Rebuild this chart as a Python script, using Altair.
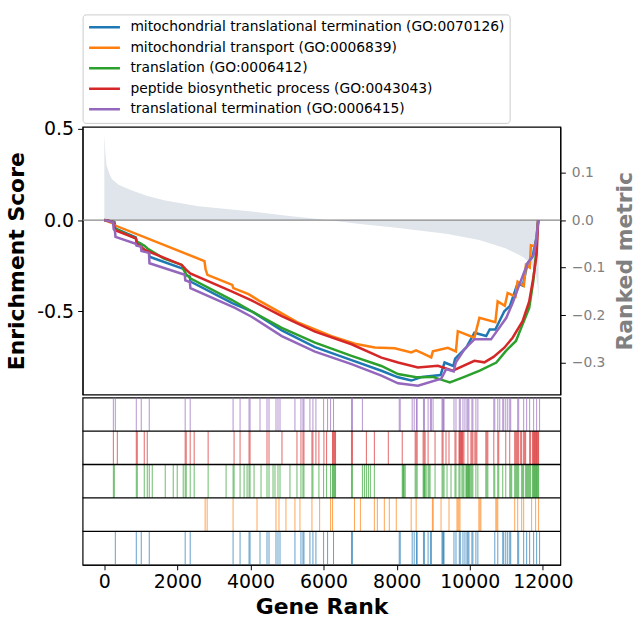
import altair as alt
import pandas as pd

names = [
    "mitochondrial translational termination (GO:0070126)",
    "mitochondrial transport (GO:0006839)",
    "translation (GO:0006412)",
    "peptide biosynthetic process (GO:0043043)",
    "translational termination (GO:0006415)",
]
colors = ["#1f77b4", "#ff7f0e", "#2ca02c", "#d62728", "#9467bd"]

# Enrichment-score curves (gene rank, ES)
es_x = [
    [0, 280, 310, 860, 880, 1000, 1020, 1220, 1235, 2200, 2215, 2340, 2355, 3500, 4028, 4855, 5765, 6764, 7582, 8037, 8400, 8700, 9200, 9310, 9550, 9600, 9900, 10127, 10450, 10546, 10700, 10946, 11100, 11310, 11450, 11582, 11720, 11830, 11873],
    [0, 250, 300, 2740, 2770, 2820, 3500, 3530, 3946, 4219, 4674, 5310, 6218, 6855, 7400, 7946, 8400, 8530, 8700, 8946, 8990, 9200, 9400, 9620, 9673, 10127, 10264, 10700, 10764, 10960, 11037, 11250, 11310, 11480, 11537, 11640, 11673, 11800, 11873],
    [0, 240, 280, 860, 900, 1090, 1180, 1619, 2119, 2160, 2250, 2350, 3483, 4028, 4855, 5765, 6764, 7582, 8037, 8537, 8990, 9300, 9455, 9818, 10273, 10727, 10991, 11264, 11446, 11627, 11737, 11809, 11873],
    [0, 240, 300, 860, 890, 1119, 2119, 2230, 2350, 3483, 4028, 4855, 5765, 6764, 7582, 8037, 8582, 9127, 9536, 10127, 10400, 10650, 10946, 11173, 11446, 11627, 11737, 11828, 11873],
    [0, 240, 255, 290, 305, 860, 880, 1000, 1015, 1220, 1235, 2200, 2215, 2340, 2355, 3574, 4028, 4855, 5765, 6764, 7582, 8037, 8582, 9218, 9355, 9560, 9620, 9855, 10127, 10582, 11000, 11173, 11355, 11582, 11750, 11830, 11873],
]
es_y = [
    [0, -0.012, -0.047, -0.095, -0.12, -0.13, -0.156, -0.175, -0.201, -0.27, -0.30, -0.31, -0.337, -0.455, -0.50, -0.605, -0.697, -0.768, -0.826, -0.862, -0.88, -0.86, -0.85, -0.781, -0.80, -0.76, -0.70, -0.618, -0.636, -0.60, -0.60, -0.50, -0.47, -0.346, -0.36, -0.237, -0.20, -0.09, 0],
    [0, -0.02, -0.03, -0.225, -0.27, -0.30, -0.355, -0.373, -0.406, -0.44, -0.491, -0.563, -0.636, -0.678, -0.699, -0.703, -0.726, -0.715, -0.73, -0.753, -0.72, -0.71, -0.70, -0.72, -0.609, -0.645, -0.536, -0.56, -0.446, -0.47, -0.40, -0.42, -0.337, -0.36, -0.246, -0.26, -0.138, -0.145, 0],
    [0, -0.01, -0.047, -0.10, -0.12, -0.14, -0.156, -0.21, -0.246, -0.27, -0.30, -0.319, -0.437, -0.50, -0.591, -0.672, -0.745, -0.80, -0.844, -0.862, -0.86, -0.88, -0.89, -0.862, -0.826, -0.781, -0.717, -0.663, -0.572, -0.482, -0.337, -0.192, 0],
    [0, -0.01, -0.056, -0.10, -0.129, -0.165, -0.246, -0.27, -0.292, -0.391, -0.44, -0.527, -0.612, -0.681, -0.754, -0.781, -0.808, -0.799, -0.826, -0.772, -0.78, -0.75, -0.70, -0.645, -0.554, -0.446, -0.319, -0.192, 0],
    [0, -0.012, -0.05, -0.06, -0.092, -0.13, -0.14, -0.145, -0.17, -0.18, -0.237, -0.30, -0.33, -0.34, -0.373, -0.482, -0.53, -0.636, -0.721, -0.79, -0.853, -0.895, -0.908, -0.87, -0.817, -0.83, -0.78, -0.708, -0.654, -0.654, -0.536, -0.455, -0.355, -0.237, -0.19, -0.10, 0],
]

# Ranked metric (gene rank, metric)
metric_x = [0, 30, 60, 150, 210, 400, 755, 1200, 1665, 2574, 4028, 5000, 6100, 7000, 8000, 8500, 9355, 10264, 10991, 11446, 11673, 11809, 11860, 11882]
metric_y = [0.18, 0.14, 0.115, 0.095, 0.086, 0.074, 0.062, 0.05, 0.041, 0.029, 0.018, 0.009, 0.0, -0.008, -0.016, -0.021, -0.029, -0.042, -0.06, -0.077, -0.091, -0.115, -0.14, -0.171]

# Hit positions of each gene set
hits = [
    [300, 874, 1010, 1229, 2212, 2349, 3523, 3714, 3960, 3987, 4260, 4451, 4506, 4697, 4752, 4807, 5216, 5380, 5435, 5462, 5626, 5708, 5790, 6000, 6109, 6272, 6763, 6790, 8070, 8097, 8424, 8479, 8542, 8560, 8733, 8760, 8860, 8924, 8951, 9240, 9260, 9280, 9296, 9568, 9623, 9714, 9741, 9814, 9868, 9923, 9950, 9977, 10059, 10086, 10168, 10222, 10685, 10767, 10903, 10930, 10985, 11039, 11094, 11121, 11312, 11339, 11475, 11557, 11639, 11748, 11830, 11911],
    [2758, 2813, 3523, 4178, 4697, 4779, 4970, 5216, 5353, 5681, 5891, 6191, 6245, 6845, 7008, 7389, 7471, 7662, 7798, 7989, 8397, 8533, 8978, 9000, 9214, 9432, 9650, 9677, 9705, 9732, 10249, 10277, 10304, 10713, 10740, 10767, 11230, 11312, 11421, 11475, 11693, 11802, 11884],
    [246, 273, 874, 901, 1092, 1174, 1229, 1311, 1666, 1885, 1994, 2158, 2212, 2240, 2349, 2458, 2840, 3332, 3523, 3550, 3714, 3824, 3906, 3960, 3987, 4097, 4288, 4451, 4506, 4616, 4670, 4752, 4807, 5080, 5271, 5380, 5435, 5462, 5681, 5708, 5872, 6000, 6082, 6191, 6245, 6265, 6286, 6306, 6327, 6763, 6790, 7062, 7117, 7171, 7226, 7280, 7389, 8152, 8170, 8188, 8206, 8234, 8506, 8533, 8560, 8724, 8742, 8760, 8778, 8806, 8860, 8887, 8914, 9050, 9242, 9269, 9296, 9378, 9487, 9596, 9623, 9705, 9732, 9786, 9814, 9841, 9895, 9914, 9932, 9950, 9968, 9986, 10004, 10032, 10059, 10086, 10168, 10222, 10440, 10467, 10495, 10658, 10685, 10767, 10794, 10903, 10985, 11094, 11121, 11148, 11230, 11258, 11285, 11312, 11339, 11421, 11448, 11475, 11530, 11557, 11584, 11611, 11639, 11666, 11720, 11738, 11756, 11775, 11793, 11811, 11829, 11847, 11866, 11884],
    [246, 355, 874, 901, 1092, 1174, 2212, 2240, 2349, 2458, 2840, 3550, 3714, 3960, 3987, 4451, 4506, 4861, 5271, 5380, 5435, 5462, 5681, 5708, 5790, 5872, 6009, 6082, 6245, 6265, 6286, 6306, 6327, 6763, 6790, 7171, 7389, 7771, 8152, 8506, 8533, 8560, 8724, 8751, 8778, 8860, 9050, 9242, 9269, 9350, 9432, 9596, 9623, 9705, 9723, 9741, 9760, 9778, 9796, 9814, 9841, 9950, 10032, 10059, 10086, 10140, 10168, 10195, 10440, 10467, 10495, 10658, 10767, 10794, 10985, 11094, 11230, 11258, 11285, 11312, 11339, 11394, 11421, 11475, 11503, 11530, 11639, 11666, 11720, 11738, 11756, 11775, 11793, 11811, 11829, 11847, 11866, 11884],
    [246, 300, 874, 1010, 1229, 2212, 2349, 3523, 3714, 3960, 3987, 4260, 4451, 4506, 4697, 4752, 4807, 5216, 5380, 5435, 5462, 5626, 5708, 5790, 6000, 6109, 6191, 6272, 6763, 6790, 7062, 8070, 8097, 8424, 8479, 8542, 8560, 8733, 8760, 8860, 8924, 8951, 8996, 9240, 9260, 9280, 9296, 9568, 9623, 9714, 9741, 9814, 9868, 9923, 9950, 9977, 10059, 10086, 10168, 10222, 10658, 10685, 10767, 10821, 10903, 10930, 10985, 11039, 11094, 11121, 11312, 11339, 11475, 11557, 11639, 11748, 11830, 11911],
]

FONT = "DejaVu Sans"

es_rows = []
for t, (xs, ys) in enumerate(zip(es_x, es_y)):
    for i, (a, b) in enumerate(zip(xs, ys)):
        es_rows.append({"term": names[t], "i": i, "rank": a, "es": b})
es_df = pd.DataFrame(es_rows)

metric_df = pd.DataFrame({"rank": metric_x, "metric": metric_y})

hit_rows = []
for t, hs in enumerate(hits):
    for h in hs:
        hit_rows.append({"term": names[t], "rank": h, "r0": t, "r1": t + 1})
hit_df = pd.DataFrame(hit_rows)

x_scale = alt.Scale(domain=[-595, 12480], nice=False, zero=False)
color_scale = alt.Scale(domain=names, range=colors)
es_scale = alt.Scale(domain=[-0.957, 0.511], nice=False, zero=False)

es_axis = alt.Axis(
    values=[0.5, 0.0, -0.5],
    labelExpr="replace(format(datum.value, '.1f'), '\u2212', '-')",
    title="Enrichment Score",
    titleFontSize=22, titleFontWeight="bold", titleColor="black",
    labelFontSize=19, labelColor="black", tickColor="black", domainColor="black",
    tickSize=5, labelPadding=4, titlePadding=8, grid=False,
)

area = alt.Chart(metric_df).mark_area(color="#dfe5ea", interpolate="linear").encode(
    x=alt.X("rank:Q", scale=x_scale, axis=None),
    y=alt.Y(
        "metric:Q",
        scale=alt.Scale(domain=[-0.367, 0.196], nice=False, zero=False),
        axis=alt.Axis(
            orient="right", values=[0.1, 0.0, -0.1, -0.2, -0.3], format=".1f",
            title="Ranked metric", titleFontSize=22, titleFontWeight="bold", titleColor="gray",
            titleAngle=270, titleBaseline="top",
            labelFontSize=13.9, labelColor="gray", tickColor="black", domainColor="black",
            tickSize=5, labelPadding=6, titlePadding=10, grid=False,
        ),
    ),
    y2=alt.datum(0),
)

zero = alt.Chart(pd.DataFrame({"z": [0.0]})).mark_rule(color="#888888", strokeWidth=1.2).encode(
    y=alt.Y("z:Q", scale=es_scale, axis=es_axis)
)

lines = alt.Chart(es_df).mark_line(strokeWidth=2.5).encode(
    x=alt.X("rank:Q", scale=x_scale, axis=None),
    y=alt.Y("es:Q", scale=es_scale, axis=es_axis),
    color=alt.Color(
        "term:N", scale=color_scale,
        legend=alt.Legend(
            orient="none", legendX=0, legendY=-113, title=None,
            symbolType="stroke", symbolSize=961, symbolStrokeWidth=2.5,
            labelFontSize=13.9, labelFont=FONT, labelColor="black", labelLimit=600,
            clipHeight=16, rowPadding=4.6, padding=5, labelOffset=9,
            strokeColor="#cccccc", fillColor="white", cornerRadius=3,
        ),
    ),
    order="i:Q",
)

main = alt.layer(area, alt.layer(zero, lines)).resolve_scale(y="independent").properties(
    width=480, height=269
)

rug_scale = alt.Scale(domain=[0, 5], nice=False, zero=False)
rug = alt.Chart(hit_df).mark_rule(strokeWidth=1, opacity=0.7).encode(
    x=alt.X(
        "rank:Q", scale=x_scale,
        axis=alt.Axis(
            values=[0, 2000, 4000, 6000, 8000, 10000, 12000], format="d",
            title="Gene Rank", titleFontSize=22, titleFontWeight="bold", titleColor="black",
            labelFontSize=19, labelColor="black", tickColor="black", domainColor="black",
            tickSize=5, labelPadding=3, titlePadding=5, grid=False, labelFlush=False,
        ),
    ),
    y=alt.Y("r0:Q", scale=rug_scale, axis=None),
    y2="r1:Q",
    color=alt.Color("term:N", scale=color_scale, legend=None),
)
seps = alt.Chart(pd.DataFrame({"b": [1, 2, 3, 4]})).mark_rule(color="black", strokeWidth=1.3).encode(
    y=alt.Y("b:Q", scale=rug_scale, axis=None)
)
rug_chart = alt.layer(rug, seps).properties(width=480, height=168)

chart = alt.vconcat(main, rug_chart, spacing=0).resolve_scale(
    color="independent"
).resolve_legend(color="independent").properties(
    padding={"left": 5, "top": 11, "right": 5, "bottom": 5}
).configure(font=FONT).configure_view(stroke="black", strokeWidth=1.2)

chart.save("out.html", embed_options={"renderer": "svg", "actions": False})
